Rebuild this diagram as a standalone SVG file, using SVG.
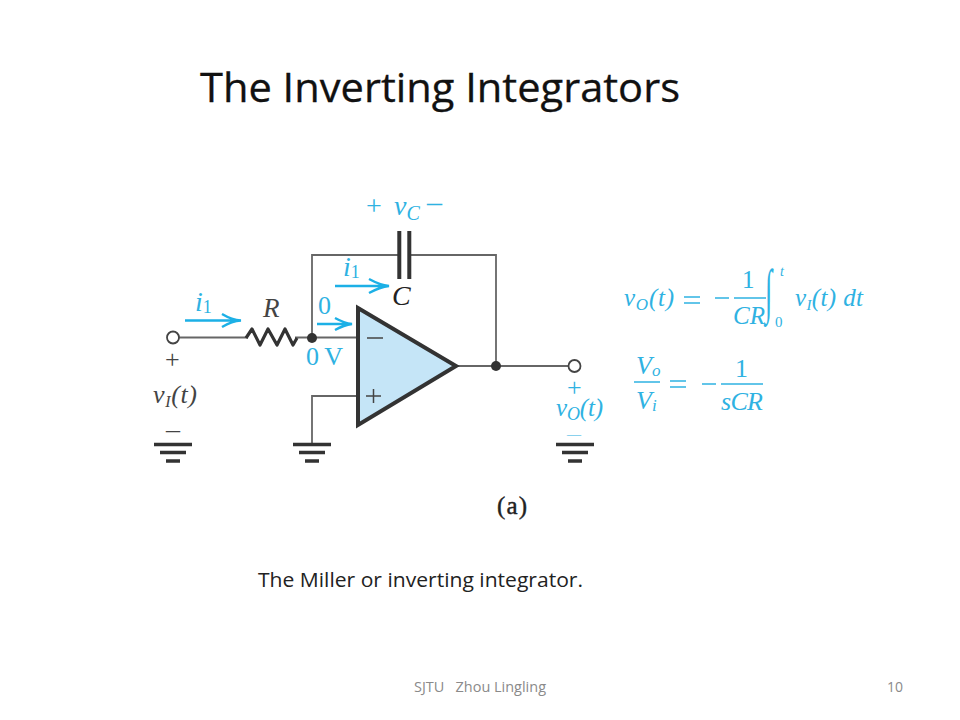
<svg xmlns="http://www.w3.org/2000/svg" width="960" height="720" viewBox="0 0 960 720">
<style>
.w{fill:none;stroke:#666;stroke-width:1.8}
.g{fill:none;stroke:#333;stroke-width:3.5}
.a{fill:none;stroke:#1cb0e6;stroke-width:2.4}
.b{fill:none;stroke:#2fb2e2;stroke-width:1.6}
.s{font-family:"Open Sans",sans-serif}
.m{font-family:"Liberation Serif",serif}
.i{font-style:italic}
.c{fill:#2fb2e2}
.k{fill:#444}
</style>
<rect width="960" height="720" fill="#fff"/>
<text id="title" class="s" x="200" y="102" font-size="40" fill="#111" stroke="#111" stroke-width=".3" textLength="480" lengthAdjust="spacingAndGlyphs">The Inverting Integrators</text>
<g id="connectors">
<path class="w" d="M179 337.500H248M295 337.500H358M312 338V255H399M409 255H496V366M456 366H568.500M358 396H312V444"/>
<path class="a" d="M185 320.500H240M222 314Q232 320 241 320.500Q232 321 222 327M335 286H388M369 279Q380 285 389 286Q380 287 369 293M317 324H351M335 318Q344 323 352 324Q344 325 335 330"/>
</g>
<g id="resistor"><path d="M246 338L252 329L260 345L268 329L277 345L285 329L293 345L297 338" fill="none" stroke="#333" stroke-width="3.200" stroke-linejoin="round"/><text class="m i k" x="263" y="317" font-size="27">R</text></g>
<g id="capacitor"><path d="M399.300 231V279M409.300 231V279" fill="none" stroke="#333" stroke-width="4"/><text class="m i" x="392" y="305" font-size="28" fill="#222">C</text></g>
<g id="opamp"><path d="M358 308V425L456 366Z" fill="#c5e5f7" stroke="#333" stroke-width="4"/><path d="M367 338H383M366 396H381M373.500 389V403" fill="none" stroke="#444" stroke-width="1.500"/></g>
<g id="input-terminal"><circle cx="173" cy="337.500" r="6" fill="#fff" stroke="#444" stroke-width="1.800"/></g>
<g id="output-terminal"><circle cx="574.500" cy="366" r="6" fill="#fff" stroke="#444" stroke-width="1.800"/></g>
<g id="node-inv"><circle cx="312" cy="338" r="5" fill="#333"/></g>
<g id="node-out"><circle cx="496" cy="366" r="5" fill="#333"/></g>
<g id="ground-input"><path class="g" d="M154 444.500H192M160 452.500H186M166 461H180"/></g>
<g id="ground-plus"><path class="g" d="M293 444.500H331M299 452.500H325M305 461H319"/></g>
<g id="ground-output"><path class="g" d="M556 444.500H594M562 452.500H588M568 461H582"/></g>
<g id="labels">
<text class="m k" x="165" y="368" font-size="26">+</text>
<text class="m i k" x="153" y="403" font-size="26" textLength="44">v<tspan font-size="16" dy="4">I</tspan><tspan dy="-4">(t)</tspan></text>
<text class="m k" x="166" y="438" font-size="28">–</text>
<text class="m i c" x="195" y="311" font-size="28">i<tspan font-size="18" dy="2" font-style="normal">1</tspan></text>
<text class="m i c" x="343" y="276" font-size="28">i<tspan font-size="18" dy="2" font-style="normal">1</tspan></text>
<text class="m c" x="318" y="314" font-size="26">0</text>
<text class="m c" x="306" y="365" font-size="26" textLength="37">0 V</text>
<text class="m c" x="366" y="215" font-size="28">+</text>
<text class="m i c" x="394" y="215" font-size="28">v<tspan font-size="20" dy="5">C</tspan></text>
<text class="m c" x="427" y="212" font-size="30">–</text>
<text class="m c" x="567" y="396" font-size="26">+</text>
<text class="m i c" x="556" y="416" font-size="25" textLength="47">v<tspan font-size="18" dy="4">O</tspan><tspan dy="-4">(t)</tspan></text>
<text class="m c" x="567" y="438" font-size="13" textLength="14" lengthAdjust="spacingAndGlyphs">–</text>
<text class="m" x="497" y="514" font-size="25" fill="#222" stroke="#222" stroke-width=".4" textLength="30">(a)</text>
</g>
<g id="equations">
<text class="m i c" x="624" y="306" font-size="25" textLength="50">v<tspan font-size="17" dy="4">O</tspan><tspan dy="-4">(t)</tspan></text>
<path class="b" d="M684 297H700M684 303H700M715 298H729M734 298H766"/>
<text class="m c" x="742" y="288" font-size="25">1</text>
<text class="m i c" x="733" y="324" font-size="25">CR</text>
<text class="m c" transform="translate(765 311) scale(1 2.300)" font-size="26">∫</text>
<text class="m i c" x="780" y="276" font-size="14">t</text>
<text class="m c" x="775" y="327" font-size="15">0</text>
<text class="m i c" x="795" y="306" font-size="25" textLength="68">v<tspan font-size="15" dy="4">I</tspan><tspan dy="-4">(t) dt</tspan></text>
<text class="m i c" x="636" y="374" font-size="26">V<tspan font-size="17" dy="2">o</tspan></text>
<text class="m i c" x="636" y="409" font-size="26">V<tspan font-size="17" dy="2">i</tspan></text>
<path class="b" d="M634 382H660M670 381H686M670 387H686M702 384H716M721 384H763"/>
<text class="m c" x="735" y="377" font-size="26">1</text>
<text class="m i c" x="721" y="410" font-size="26" textLength="42">sCR</text>
</g>
<text id="caption" class="s" x="258" y="587" font-size="20" fill="#222" textLength="325" lengthAdjust="spacingAndGlyphs">The Miller or inverting integrator.</text>
<text id="footer" class="s" x="414" y="692" font-size="14" fill="#8a8a8a" xml:space="preserve" textLength="132" lengthAdjust="spacingAndGlyphs">SJTU   Zhou Lingling</text>
<text id="page" class="s" x="887" y="692" font-size="14" fill="#8a8a8a">10</text>
</svg>
